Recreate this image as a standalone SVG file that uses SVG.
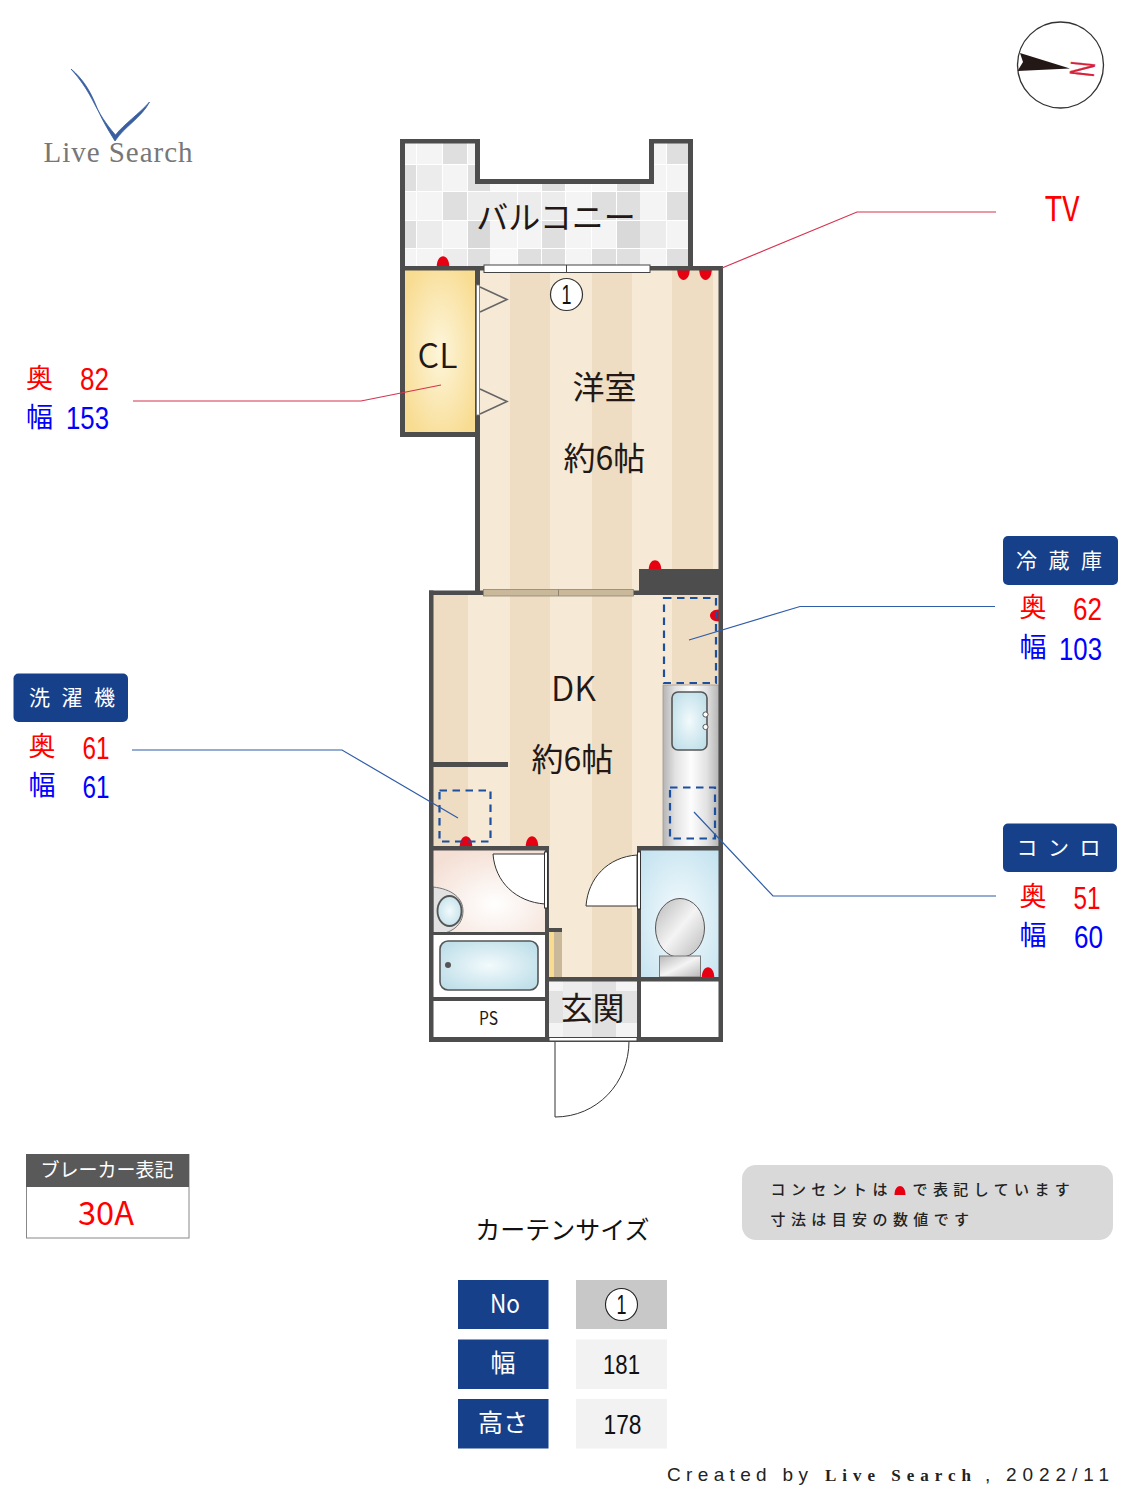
<svg xmlns="http://www.w3.org/2000/svg" width="1125" height="1500" viewBox="0 0 1125 1500">
<style>
text{font-family:"Noto Sans CJK JP","Noto Sans",sans-serif;text-anchor:middle}
.t{fill:#231815;font-weight:400;font-size:32px}
.r{fill:#f00;font-size:27px;font-weight:400}
.b{fill:#00f;font-size:27px;font-weight:400}
.n{font-family:"Liberation Sans",Arial,sans-serif;font-size:31px}
.h{fill:#fff;font-size:21px;font-weight:400}
.w{fill:#4d4d4d}
.l{fill:#f6ead6}
.d{fill:#eedcc3}
.o{fill:#e60012}
.ln{fill:none;stroke-width:1.2}
.red{stroke:#d6334f}
.blu{stroke:#2f5da8}
.dash{fill:none;stroke:#1d4f9f;stroke-width:2.2;stroke-dasharray:7.500 5.500}
.door{fill:#fff;stroke:#333;stroke-width:1}
.nav{fill:#17408b}
.g{font-family:"Liberation Sans",Arial,sans-serif;font-size:27px;fill:#111}
.s{text-anchor:start;font-size:15px;font-weight:500;letter-spacing:5.4px;fill:#222}
.cr{text-anchor:start;font-family:"Liberation Sans",sans-serif;font-size:19px;fill:#222}
.a{fill:#f4f4f4}.c{fill:#ececec}.e{fill:#dfdfdf}.f{fill:#f8f8f8}
</style>
<defs>
<radialGradient id="gCL" cx="50%" cy="50%" r="60%"><stop offset="0" stop-color="#fdf6dc"/><stop offset="1" stop-color="#f8dc92"/></radialGradient>
<radialGradient id="gBlue" cx="50%" cy="50%" r="65%"><stop offset="0" stop-color="#f2fafc"/><stop offset="1" stop-color="#bcdde8"/></radialGradient>
<radialGradient id="gWc" cx="50%" cy="55%" r="70%"><stop offset="0" stop-color="#f6fbfd"/><stop offset="1" stop-color="#c4e3f0"/></radialGradient>
<radialGradient id="gPink" cx="55%" cy="65%" r="70%"><stop offset="0" stop-color="#fff"/><stop offset="1" stop-color="#f4dfd4"/></radialGradient>
<linearGradient id="gSteel" x1="0" x2="1" y1="0" y2="0"><stop offset="0" stop-color="#b4b4b4"/><stop offset=".22" stop-color="#e2e2e2"/><stop offset=".5" stop-color="#fdfdfd"/><stop offset=".78" stop-color="#e2e2e2"/><stop offset="1" stop-color="#b4b4b4"/></linearGradient>
<linearGradient id="gToilet" x1="0" x2="1" y1="0" y2="1"><stop offset="0" stop-color="#b8b8b8"/><stop offset=".5" stop-color="#f4f4f4"/><stop offset="1" stop-color="#b8b8b8"/></linearGradient>
</defs>
<rect width="1125" height="1500" fill="#fff"/>

<g id="logo">
<path d="M71 69C83 79 90 91 95 103C101 118 107 128 115 141C124 127 142 117 149.500 102C139 114 124 124 115.500 135C106 124 100 115 92 99C86 88 80 79 71 69Z" fill="#3a5fa0" stroke="#3a5fa0" stroke-width=".8"/>
<text x="118" y="162" textLength="149" style="font-family:'Liberation Serif',serif;font-size:29px;fill:#777">Live Search</text>
</g>

<g id="compass">
<circle cx="1060.5" cy="65" r="43" fill="#fff" stroke="#333" stroke-width="1.3"/>
<polygon points="1020,53 1070,68.5 1017.5,71 1023,62" fill="#231815"/>
<text transform="translate(1083 69) rotate(96)" x="0" y="12.5" textLength="15" lengthAdjust="spacingAndGlyphs" style="font-family:'Liberation Sans',sans-serif;font-size:35px;fill:#d8203a;stroke:#d8203a;stroke-width:.4">N</text>
</g>

<g id="balcony">
<rect x="404" y="143" width="285" height="124" fill="#fff"/>
<g id="tiles">
<rect x="405" y="143" width="11" height="21" class="a"/><rect x="417" y="143" width="25" height="21" class="a"/><rect x="443" y="143" width="24" height="21" class="e"/><rect x="468" y="143" width="8" height="21" class="a"/><rect x="654" y="143" width="12" height="21" class="a"/><rect x="667" y="143" width="21" height="21" class="e"/>
<rect x="405" y="165" width="11" height="26" class="e"/><rect x="417" y="165" width="25" height="26" class="c"/><rect x="443" y="165" width="24" height="26" class="a"/><rect x="468" y="165" width="22" height="26" class="e"/><rect x="490" y="165" width="27" height="26" class="f"/><rect x="518" y="165" width="23" height="26" class="f"/><rect x="542" y="165" width="23" height="26" class="e"/><rect x="566" y="165" width="25" height="26" class="f"/><rect x="592" y="165" width="24" height="26" class="f"/><rect x="617" y="165" width="23" height="26" class="e"/><rect x="640" y="165" width="26" height="26" class="a"/><rect x="667" y="165" width="21" height="26" class="a"/>
<rect x="405" y="192" width="11" height="28" class="a"/><rect x="417" y="192" width="25" height="28" class="a"/><rect x="443" y="192" width="24" height="28" class="e"/><rect x="468" y="192" width="22" height="28" class="c"/><rect x="490" y="192" width="27" height="28" class="c"/><rect x="518" y="192" width="23" height="28" class="c"/><rect x="542" y="192" width="23" height="28" class="c"/><rect x="566" y="192" width="25" height="28" class="a"/><rect x="592" y="192" width="24" height="28" class="e"/><rect x="617" y="192" width="23" height="28" class="e"/><rect x="640" y="192" width="26" height="28" class="a"/><rect x="667" y="192" width="21" height="28" class="e"/>
<rect x="405" y="221" width="11" height="27" class="e"/><rect x="417" y="221" width="25" height="27" class="c"/><rect x="443" y="221" width="24" height="27" class="a"/><rect x="468" y="221" width="22" height="27" fill="#d9d9d9"/><rect x="490" y="221" width="27" height="27" class="a"/><rect x="518" y="221" width="23" height="27" class="a"/><rect x="542" y="221" width="23" height="27" class="e"/><rect x="566" y="221" width="25" height="27" class="a"/><rect x="592" y="221" width="24" height="27" class="a"/><rect x="617" y="221" width="23" height="27" fill="#d9d9d9"/><rect x="640" y="221" width="26" height="27" class="c"/><rect x="667" y="221" width="21" height="27" class="a"/>
<rect x="405" y="249" width="11" height="18" class="a"/><rect x="417" y="249" width="25" height="18" class="a"/><rect x="443" y="249" width="24" height="18" class="c"/><rect x="468" y="249" width="22" height="18" class="e"/><rect x="490" y="249" width="27" height="18" class="f"/><rect x="518" y="249" width="23" height="18" class="e"/><rect x="542" y="249" width="23" height="18" class="e"/><rect x="566" y="249" width="25" height="18" class="a"/><rect x="592" y="249" width="24" height="18" class="e"/><rect x="617" y="249" width="23" height="18" class="e"/><rect x="640" y="249" width="26" height="18" class="a"/><rect x="667" y="249" width="21" height="18" class="e"/>
</g>
<rect x="480" y="139" width="169" height="41" fill="#fff"/>
</g>

<g id="room-western">
<rect x="480" y="270" width="239" height="325" class="l"/>
<rect x="510" y="270" width="40" height="325" class="d"/><rect x="592" y="270" width="40" height="325" class="d"/><rect x="672" y="270" width="41" height="325" class="d"/>
<text x="604.5" y="399" class="t">洋室</text>
<text x="604.5" y="470" class="t">約6帖</text>
</g>

<g id="closet">
<rect x="405" y="270" width="71" height="163" fill="url(#gCL)"/>
<text x="437.5" y="368" style="font-size:34px;font-weight:350;fill:#231815">CL</text>
</g>

<g id="room-dk">
<rect x="433" y="595" width="286" height="255" class="l"/>
<rect x="433" y="595" width="35" height="255" class="d"/><rect x="510" y="595" width="40" height="255" class="d"/><rect x="592" y="595" width="40" height="255" class="d"/><rect x="672" y="595" width="47" height="90" class="d"/>
<rect x="549" y="850" width="88" height="128" class="l"/><rect x="592" y="850" width="40" height="128" class="d"/>
<text x="573.5" y="701" style="font-size:34px;font-weight:350;fill:#231815">DK</text>
<text x="572.5" y="771" class="t">約6帖</text>
</g>

<g id="kitchen">
<rect x="663" y="685" width="56" height="162" fill="url(#gSteel)" stroke="#999" stroke-width=".8"/>
<rect x="672" y="692" width="35" height="58" rx="6" fill="url(#gBlue)" stroke="#555" stroke-width="1.6"/>
<circle cx="705.5" cy="714.5" r="2.6" fill="#fff" stroke="#555"/>
<circle cx="705.5" cy="727" r="2.6" fill="#fff" stroke="#555"/>
</g>

<g id="washroom">
<rect x="433" y="850" width="112" height="83" fill="url(#gPink)"/>
<path d="M433 887C452 889 463 898 463 911C463 925 452 934 433 935Z" fill="#e2e2e2" stroke="#777" stroke-width="1"/>
<ellipse cx="449.5" cy="911" rx="12" ry="15" fill="url(#gBlue)" stroke="#555" stroke-width="1.8"/>
<path d="M493 854H545V904C516 902 495 882 493 854Z" class="door"/>
</g>

<g id="bath">
<rect x="433" y="935" width="112" height="62" fill="#fff"/>
<rect x="440" y="941" width="98" height="49" rx="8" fill="url(#gBlue)" stroke="#555" stroke-width="1.6"/>
<circle cx="448" cy="965" r="3" fill="#555"/>
</g>

<g id="ps">
<rect x="433" y="1001" width="112" height="36" fill="#fff"/>
<text x="488.5" y="1025" style="font-size:18px;font-weight:400;fill:#231815" textLength="19" lengthAdjust="spacingAndGlyphs">PS</text>
</g>

<g id="toilet">
<rect x="641" y="850" width="78" height="127" fill="url(#gWc)"/>
<path d="M586 906H637V855C608 857 588 878 586 906Z" class="door"/>
<ellipse cx="680" cy="928" rx="24.5" ry="29.5" fill="url(#gToilet)" stroke="#555" stroke-width="1"/>
<rect x="659.5" y="956" width="41" height="21" fill="url(#gToilet)" stroke="#777" stroke-width="1"/>
</g>

<g id="storage"><rect x="641" y="981" width="78" height="56" fill="#fff"/></g>

<g id="shoe">
<rect x="549" y="932" width="5" height="45" fill="#f8dc92"/><rect x="554" y="932" width="8" height="45" fill="#c9b99a"/>
</g>

<g id="entrance">
<rect x="549" y="981" width="88" height="56" fill="#f4f4f4"/>
<rect x="549" y="991" width="88" height="32" fill="#e2e2e2"/><rect x="563" y="981" width="29" height="56" fill="#ececec"/><rect x="592" y="981" width="24" height="56" fill="#e0e0e0"/>
<text x="592.5" y="1020" class="t">玄関</text>
<path d="M555 1041V1117C597 1117 629 1083 629 1041" class="door"/>
</g>

<g id="outlets">
<path d="M436.700 267C436.700 252.500 449.300 252.500 449.300 267Z" class="o"/>
<path d="M677.200 269C677.200 283.500 689.800 283.500 689.800 269Z" class="o"/>
<path d="M699.200 269C699.200 283.500 711.800 283.500 711.800 269Z" class="o"/>
<path d="M648.700 570C648.700 557 661.300 557 661.300 570Z" class="o"/>
<path d="M719 609.500C707 609.500 707 621.500 719 621.500Z" class="o"/>
<path d="M459.700 847C459.700 832.500 472.300 832.500 472.300 847Z" class="o"/>
<path d="M525.700 847C525.700 832.500 538.300 832.500 538.300 847Z" class="o"/>
<path d="M701.700 978C701.700 963.500 714.300 963.500 714.300 978Z" class="o"/>
</g>

<g id="walls">
<rect x="400" y="139" width="5" height="298" class="w"/><rect x="400" y="139" width="80" height="4.5" class="w"/><rect x="475" y="139" width="5" height="45" class="w"/><rect x="475" y="266" width="5" height="329" class="w"/><rect x="475" y="179" width="179" height="5" class="w"/><rect x="649" y="139" width="5" height="45" class="w"/><rect x="649" y="139" width="44" height="4.5" class="w"/><rect x="688" y="139" width="5" height="131" class="w"/><rect x="400" y="266" width="323" height="4.5" class="w"/><rect x="718.5" y="266" width="4.5" height="776" class="w"/><rect x="400" y="432" width="80" height="5" class="w"/>
<rect x="429" y="590.5" width="294" height="4.5" class="w"/><rect x="639" y="569" width="84" height="26" class="w"/><rect x="429" y="590.5" width="4.5" height="451.5" class="w"/><rect x="433" y="762" width="75" height="5" class="w"/>
<rect x="429" y="846" width="120" height="4.5" class="w"/><rect x="545" y="846" width="4" height="196" class="w"/><rect x="637" y="846" width="4" height="196" class="w"/><rect x="637" y="846" width="86" height="4.5" class="w"/>
<rect x="433" y="932" width="112" height="3" class="w"/><rect x="429" y="997" width="120" height="4" class="w"/><rect x="545" y="928" width="17" height="4" class="w"/><rect x="545" y="977" width="178" height="4.5" class="w"/><rect x="429" y="1037" width="294" height="5" class="w"/>
</g>

<g id="balcony-label"><text x="556" y="229" class="t">バルコニー</text></g>

<g id="openings">
<rect x="484" y="265" width="166" height="7.5" fill="#fff" stroke="#444" stroke-width="1"/><line x1="566.5" y1="265" x2="566.5" y2="272.5" stroke="#444"/>
<rect x="483.5" y="589.5" width="150" height="6.5" fill="#c9b99a" stroke="#8f8570" stroke-width=".8"/><line x1="558.5" y1="589.5" x2="558.5" y2="596" stroke="#8f8570"/>
<rect x="476.5" y="285" width="3" height="130" fill="#fff" stroke="#777" stroke-width=".8"/>
<polyline points="480,287 507,299.5 480,312" fill="none" stroke="#666" stroke-width="1.6"/>
<polyline points="480,389 507,401.5 480,414" fill="none" stroke="#666" stroke-width="1.6"/>
<rect x="544.5" y="852" width="3" height="56" class="door"/>
<rect x="637.5" y="852" width="3" height="57" class="door"/>
<rect x="549" y="1037.5" width="88" height="3.5" fill="#fff" stroke="#444" stroke-width="1"/>
</g>

<g id="appliances">
<rect x="664" y="598" width="52" height="85" class="dash"/>
<rect x="670" y="787.5" width="45" height="51" class="dash"/>
<rect x="439.5" y="790.5" width="51" height="51" class="dash"/>
</g>

<g id="curtain-mark">
<circle cx="566.5" cy="294.5" r="16" fill="#fff" stroke="#333" stroke-width="1.2"/>
<text x="566.5" y="304" textLength="10" lengthAdjust="spacingAndGlyphs" class="g">1</text>
</g>

<g id="connectors">
<polyline points="722,268 857,212 996,212" class="ln red"/>
<polyline points="133,401 361,401 441,385" class="ln red"/>
<polyline points="995,606.5 800,606.5 689,640" class="ln blu"/>
<polyline points="132,750 342,750 458,818" class="ln blu"/>
<polyline points="996,896 773,896 694,812" class="ln blu"/>
</g>

<g id="label-tv"><text x="1062" y="221" textLength="35" lengthAdjust="spacingAndGlyphs" style="font-size:34px;font-weight:400;fill:#f00">TV</text></g>

<g id="label-closet">
<text x="39.5" y="388" class="r">奥</text><text x="94.500" y="390" textLength="29" lengthAdjust="spacingAndGlyphs" class="n" fill="#f00">82</text>
<text x="39.5" y="427" class="b">幅</text><text x="87.500" y="429" textLength="43" lengthAdjust="spacingAndGlyphs" class="n" fill="#00f">153</text>
</g>

<g id="label-washer">
<rect x="13.5" y="673.5" width="114.5" height="48.5" rx="5" class="nav"/>
<text x="72" y="705" textLength="86" class="h">洗 濯 機</text>
<text x="42" y="756" class="r">奥</text><text x="96" y="758.500" textLength="27" lengthAdjust="spacingAndGlyphs" class="n" fill="#f00">61</text>
<text x="42" y="795" class="b">幅</text><text x="96" y="797.500" textLength="27" lengthAdjust="spacingAndGlyphs" class="n" fill="#00f">61</text>
</g>

<g id="label-fridge">
<rect x="1003" y="536" width="115" height="49" rx="5" class="nav"/>
<text x="1059" y="568" textLength="86" class="h">冷 蔵 庫</text>
<text x="1033" y="617" class="r">奥</text><text x="1087.500" y="620" textLength="29" lengthAdjust="spacingAndGlyphs" class="n" fill="#f00">62</text>
<text x="1033" y="657" class="b">幅</text><text x="1080.500" y="659.500" textLength="43" lengthAdjust="spacingAndGlyphs" class="n" fill="#00f">103</text>
</g>

<g id="label-stove">
<rect x="1003" y="823.5" width="114" height="48.5" rx="5" class="nav"/>
<text x="1058.5" y="855" textLength="84" class="h">コ ン ロ</text>
<text x="1033" y="906" class="r">奥</text><text x="1087" y="908.500" textLength="27" lengthAdjust="spacingAndGlyphs" class="n" fill="#f00">51</text>
<text x="1033" y="945" class="b">幅</text><text x="1088.500" y="948" textLength="29" lengthAdjust="spacingAndGlyphs" class="n" fill="#00f">60</text>
</g>

<g id="breaker">
<rect x="26.5" y="1154.5" width="162.5" height="83.5" fill="#fff" stroke="#888"/>
<rect x="26" y="1154" width="163" height="33" fill="#595959"/>
<text x="107" y="1177" style="font-size:19px;font-weight:400;fill:#fff">ブレーカー表記</text>
<text x="106" y="1225" textLength="56" lengthAdjust="spacingAndGlyphs" style="font-size:32px;font-weight:400;fill:#f00">30A</text>
</g>

<g id="note">
<rect x="742" y="1165" width="371" height="75" rx="14" fill="#d9d9d9"/>
<text x="770.5" y="1195" class="s">コンセントは</text>
<path d="M894.5 1195C894.5 1183 905.5 1183 905.5 1195Z" fill="#e60012"/>
<text x="912.5" y="1195" class="s">で表記しています</text>
<text x="770.5" y="1225" class="s">寸法は目安の数値です</text>
</g>

<g id="curtain-table">
<text x="562.5" y="1239" style="font-size:25px;font-weight:400;fill:#111">カーテンサイズ</text>
<rect x="458" y="1280" width="90.5" height="49" class="nav"/><rect x="458" y="1339.5" width="90.5" height="49.5" class="nav"/><rect x="458" y="1399" width="90.5" height="49.5" class="nav"/>
<rect x="576" y="1280" width="91" height="49" fill="#c8c8c8"/><rect x="576" y="1339.5" width="91" height="49.5" fill="#f2f2f2"/><rect x="576" y="1399" width="91" height="49.5" fill="#f2f2f2"/>
<text x="505" y="1313" textLength="30" lengthAdjust="spacingAndGlyphs" style="font-size:26px;font-weight:400;fill:#fff">No</text>
<text x="503" y="1372" style="font-size:25px;font-weight:400;fill:#fff">幅</text>
<text x="503" y="1432" style="font-size:25px;font-weight:400;fill:#fff">高さ</text>
<circle cx="621.5" cy="1304.5" r="16" fill="#fff" stroke="#222" stroke-width="1.1"/>
<text x="621.5" y="1314" textLength="10" lengthAdjust="spacingAndGlyphs" class="g">1</text>
<text x="621.5" y="1374" textLength="37" lengthAdjust="spacingAndGlyphs" class="g">181</text>
<text x="622.5" y="1434" textLength="38" lengthAdjust="spacingAndGlyphs" class="g">178</text>
</g>

<g id="credit">
<text x="667" y="1481" textLength="141" class="cr">Created by</text>
<text x="825" y="1481" textLength="146" style="text-anchor:start;font-family:'Liberation Serif',serif;font-weight:700;font-size:17px;fill:#222">Live Search</text>
<text x="985" y="1481" class="cr">,</text>
<text x="1006" y="1481" textLength="103" class="cr">2022/11</text>
</g>
</svg>
